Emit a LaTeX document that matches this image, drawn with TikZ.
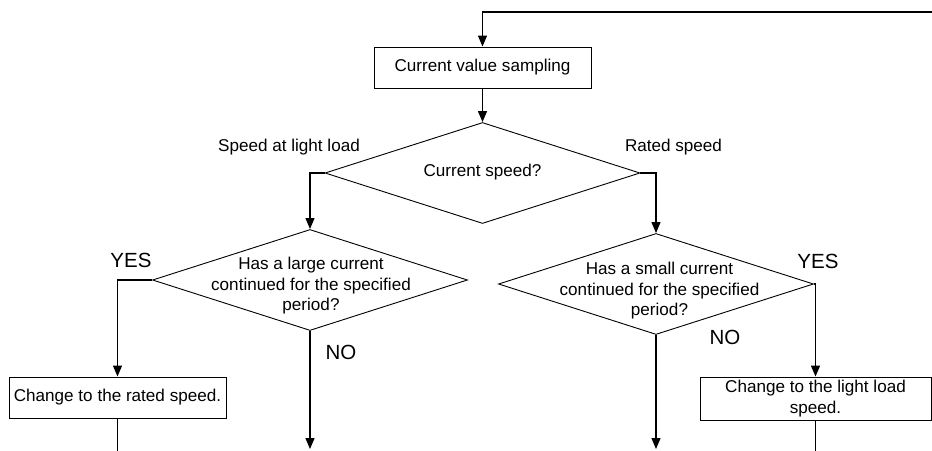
\documentclass[tikz,border=0pt]{standalone}
\usepackage{fontspec}
\setmainfont{Liberation Sans}
\usepackage{tikz}
\usetikzlibrary{arrows.meta,shapes}
\tikzstyle{procbox}=[rectangle,draw=black,line width=0.9pt,inner sep=0pt,align=center]
\tikzstyle{decision}=[diamond,draw=black,line width=0.9pt,inner sep=0pt,minimum width=315pt,minimum height=101pt]
\tikzstyle{qtext}=[align=center,inner sep=0pt]
\tikzstyle{answer}=[font=\fontsize{20.5}{24}\selectfont,inner sep=0pt]
\tikzstyle{flow}=[line width=1.3pt,-{Triangle[length=11pt,width=9pt]}]
\tikzstyle{line}=[line width=1.3pt]

\begin{document}
\begin{tikzpicture}[x=1pt,y=-1pt,font=\fontsize{17.1}{20.5}\selectfont]
          \useasboundingbox (0,0) rectangle (932,450);

          \node[procbox,minimum width=217pt,minimum height=41pt] (sample) at (482.5,67.5) {Current value sampling};
          \coordinate (back) at (932,12);
          \draw[flow] (back) -| (sample.north);

          \node[decision] (speed) [below of=sample,node distance=105.5pt] {};
          \node[qtext]    (speedq) at ([yshift=1pt]speed.center) {Current speed?};
          \draw[flow]     (sample) -- (speed.north);

          \node (lightlbl) at (289,147) {Speed at light load};
          \node (ratedlbl) at (673.5,147) {Rated speed};

          \node[decision] (large) [below of=speed,node distance=107pt,xshift=-172.5pt] {};
          \node[qtext]    (largeq) at ([yshift=-6pt,xshift=1pt]large.center) {Has a large current\\continued for the specified\\period?};
          \draw[flow]     (speed.west) -| (large.north);

          \node[decision] (small) [below of=speed,node distance=111pt,xshift=173.5pt] {};
          \node[qtext]    (smallq) at ([yshift=-7pt,xshift=3.5pt]small.center) {Has a small current\\continued for the specified\\period?};
          \draw[flow]     (speed.east) -| (small.north);

          \node[procbox,minimum width=217pt,minimum height=41pt] (rated) at (117.5,397.5) {Change to the rated speed.};
          \draw[flow]     (large.west) -| (rated.north);
          \node[answer]   (yesl) at (131,260) {YES};
          \node[answer]   (nol) at (341,352) {NO};

          \node[procbox,minimum width=231pt,minimum height=43pt] (light) at (815.5,398.5) {Change to the light load\\speed.};
          \draw[flow]     (small.east) -| (light.north);
          \node[answer]   (yesr) at (818,261) {YES};
          \node[answer]   (nor) at (725,337) {NO};

          \coordinate (largeout) at (large.south |- 0,449);
          \coordinate (smallout) at (small.south |- 0,449);
          \coordinate (ratedout) at (rated.south |- 0,452);
          \coordinate (lightout) at (light.south |- 0,452);
          \draw[flow] (large.south) -- (largeout);
          \draw[flow] (small.south) -- (smallout);
          \draw[line] (rated.south) -- (ratedout);
          \draw[line] (light.south) -- (lightout);
        \end{tikzpicture}
\end{document}
